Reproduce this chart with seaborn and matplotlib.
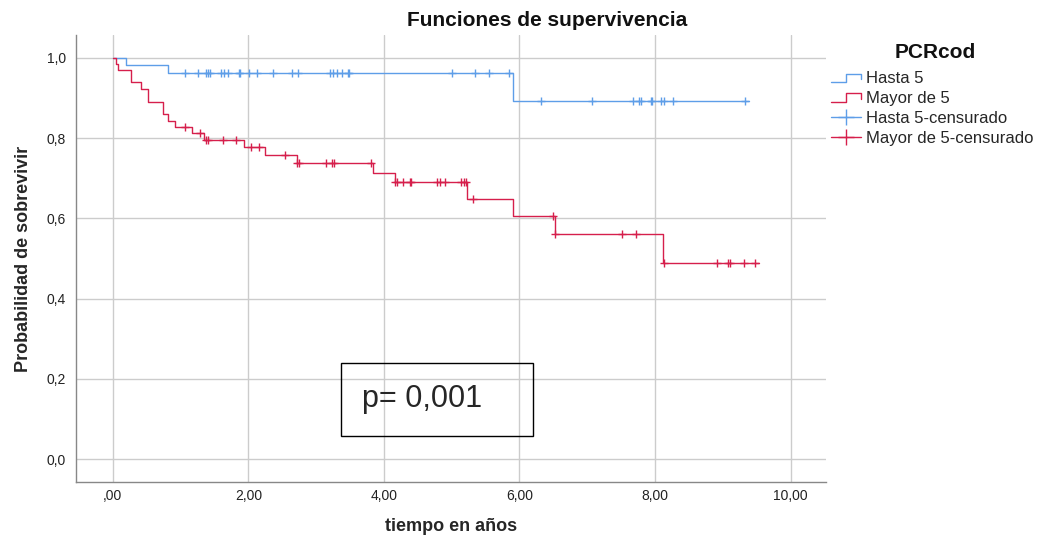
import numpy as np
import matplotlib
matplotlib.use('Agg')
import matplotlib.pyplot as plt
import seaborn as sns
from matplotlib.lines import Line2D
from matplotlib.patches import Rectangle
from matplotlib.legend_handler import HandlerBase

# Kaplan-Meier steps (time in years, survival)
hasta_times = [0.0, 0.20, 0.81, 5.91, 9.38]
hasta_surv = [1.0, 0.982, 0.961, 0.892, 0.892]
hasta_cens = [1.06, 1.25, 1.38, 1.41, 1.43, 1.59, 1.64, 1.70, 1.86, 1.88,
              2.01, 2.13, 2.36, 2.64, 2.73, 3.20, 3.25, 3.31, 3.38, 3.47,
              3.49, 5.00, 5.35, 5.55, 5.84, 6.32, 7.07, 7.67, 7.76, 7.80,
              7.94, 7.96, 8.09, 8.13, 8.26, 9.33]

mayor_times = [0.0, 0.04, 0.08, 0.27, 0.41, 0.52, 0.74, 0.82, 0.91, 1.16,
               1.35, 1.94, 2.25, 2.71, 3.84, 4.16, 5.23, 5.91, 6.52, 8.12, 9.53]
mayor_surv = [1.0, 0.985, 0.970, 0.939, 0.922, 0.891, 0.860, 0.843, 0.827, 0.812,
              0.796, 0.777, 0.759, 0.738, 0.713, 0.690, 0.648, 0.606, 0.560, 0.490, 0.490]
mayor_cens = [1.06, 1.28, 1.38, 1.41, 1.63, 1.82, 2.04, 2.15, 2.54, 2.72,
              2.74, 3.15, 3.23, 3.27, 3.81, 4.17, 4.19, 4.28, 4.38, 4.40,
              4.79, 4.82, 4.90, 5.14, 5.18, 5.21, 5.31, 6.50, 6.53, 7.51,
              7.72, 8.13, 8.92, 9.07, 9.10, 9.31, 9.48]

x_ticks = [0, 2, 4, 6, 8, 10]
x_labels = [',00', '2,00', '4,00', '6,00', '8,00', '10,00']
y_ticks = [0.0, 0.2, 0.4, 0.6, 0.8, 1.0]
y_labels = ['0,0', '0,2', '0,4', '0,6', '0,8', '1,0']

blue = '#5E9EE8'
red = '#D61F4C'


def level_at(times, surv, t):
    idx = np.searchsorted(times, t, side='right') - 1
    return np.array(surv)[idx]


class StepHandler(HandlerBase):
    def create_artists(self, legend, orig_handle, xdescent, ydescent,
                       width, height, fontsize, trans):
        x0 = -xdescent
        y0 = -ydescent
        xs = [x0, x0 + width * 0.5, x0 + width * 0.5, x0 + width, x0 + width]
        ys = [y0 + height * 0.1, y0 + height * 0.1, y0 + height * 0.8,
              y0 + height * 0.8, y0 + height * 0.35]
        ln = Line2D(xs, ys, color=orig_handle.get_color(), lw=1.0, transform=trans)
        return [ln]


sns.set_style('white')
plt.rcParams['font.family'] = ['Liberation Sans', 'DejaVu Sans']

fig = plt.figure(figsize=(10.4, 5.38), dpi=100)
ax = fig.add_axes([0.073, 0.104, 0.721, 0.831])

sns.lineplot(x=hasta_times, y=hasta_surv, drawstyle='steps-post', color=blue,
             lw=1.0, estimator=None, sort=False, ax=ax)
sns.lineplot(x=mayor_times, y=mayor_surv, drawstyle='steps-post', color=red,
             lw=1.0, estimator=None, sort=False, ax=ax)
sns.scatterplot(x=hasta_cens, y=level_at(hasta_times, hasta_surv, hasta_cens),
                marker='+', s=40, color=blue, linewidth=1.0, ax=ax, zorder=3)
sns.scatterplot(x=mayor_cens, y=level_at(mayor_times, mayor_surv, mayor_cens),
                marker='+', s=40, color=red, linewidth=1.0, ax=ax, zorder=3)

ax.set_xlim(-0.546, 10.52)
ax.set_ylim(-0.057, 1.057)
ax.set_xticks(x_ticks)
ax.set_xticklabels(x_labels)
ax.set_yticks(y_ticks)
ax.set_yticklabels(y_labels)
ax.grid(True, color='#cccccc', lw=1.0)
ax.set_axisbelow(True)
ax.tick_params(length=0, labelsize=10, colors='#222222')
ax.tick_params(axis='x', pad=5)
ax.tick_params(axis='y', pad=7)
for side in ['top', 'right']:
    ax.spines[side].set_visible(False)
for side in ['left', 'bottom']:
    ax.spines[side].set_color('#888888')
    ax.spines[side].set_linewidth(1.0)

ax.set_xlabel('tiempo en años', fontsize=13, fontweight='bold', labelpad=11)
ax.set_ylabel('Probabilidad de sobrevivir', fontsize=13, fontweight='bold', labelpad=11)
fig.text(547 / 1040, 1 - 20 / 538, 'Funciones de supervivencia', fontsize=15,
         fontweight='bold', ha='center', va='center', color='#111111')

# p-value box
ax.add_patch(Rectangle((0.353, 0.103), 0.256, 0.163, transform=ax.transAxes,
                       fill=False, edgecolor='black', lw=1.0))
ax.text(0.381, 0.186, 'p= 0,001', transform=ax.transAxes, fontsize=22,
        va='center', ha='left')

handles = [Line2D([], [], color=blue), Line2D([], [], color=red),
           Line2D([], [], color=blue, marker='+', markersize=12, lw=1.0),
           Line2D([], [], color=red, marker='+', markersize=12, lw=1.0)]
labels = ['Hasta 5', 'Mayor de 5', 'Hasta 5-censurado', 'Mayor de 5-censurado']
ax.legend(handles, labels, loc='upper left',
          bbox_to_anchor=(831 / 1040, 1 - 71 / 538), bbox_transform=fig.transFigure,
          frameon=False, fontsize=12, numpoints=1, handlelength=1.8,
          handletextpad=0.3, labelspacing=0.29, borderpad=0, borderaxespad=0,
          handler_map={handles[0]: StepHandler(), handles[1]: StepHandler()})
fig.text(935 / 1040, 1 - 52 / 538, 'PCRcod', fontsize=15, fontweight='bold',
         ha='center', va='center', color='#111111')

fig.savefig('out.png', dpi=100)
